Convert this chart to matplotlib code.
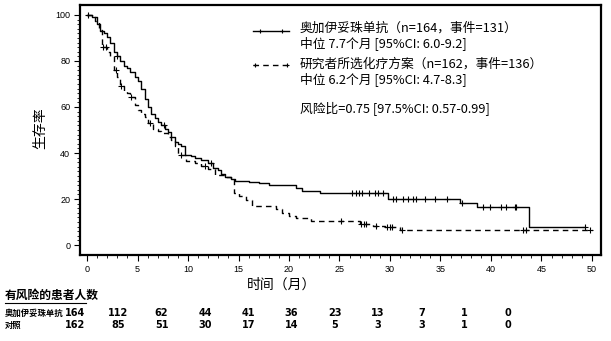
import numpy as np
import matplotlib
matplotlib.use("Agg")
import matplotlib.pyplot as plt
from matplotlib.lines import Line2D

plt.rcParams['font.family'] = ['Noto Sans CJK SC', 'DejaVu Sans']

# ---------------- data ----------------
times_o = [0, 0.5, 1.0, 1.3, 1.7, 2.0, 2.3, 2.7, 3.0, 3.3, 3.7, 4.0, 4.3, 4.7, 5.0, 5.3, 5.7,
           6.0, 6.3, 6.7, 7.0, 7.3, 7.7, 8.0, 8.3, 8.7, 9.0, 9.3, 9.7, 10.3, 10.7, 11.3, 12.0,
           12.5, 13.0, 13.3, 13.7, 14.3, 14.7, 16.0, 17.0, 18.0, 20.7, 21.3, 23.1, 29.8, 36.9,
           38.6, 43.8, 49.3]
surv_o = [100, 99, 96, 93, 92, 90.5, 88, 84, 82, 80, 78, 77, 75, 73, 71.5, 68, 63.5,
          60, 57, 55, 53.5, 52, 50.5, 49, 47, 45, 44, 43, 39, 38.5, 38, 37, 35.5,
          33.5, 32.5, 31, 29.5, 28.5, 27.8, 27.3, 27, 26.3, 24.8, 23.5, 22.7, 20.0, 18.5,
          16.4, 8.0, 8.0]
cens_o = [0.1, 3.0, 7.6, 12.3, 26.2, 26.6, 26.9, 27.2, 27.9, 28.5, 28.8, 29.3, 30.3, 30.6,
          31.3, 31.8, 32.3, 32.6, 33.5, 34.5, 35.6, 37.1, 39.2, 39.9, 41.0, 41.5, 42.4, 42.5,
          49.3]

times_c = [0, 0.5, 0.8, 1.2, 1.5, 2.0, 2.3, 2.7, 3.0, 3.3, 3.7, 4.0, 4.3, 4.7, 5.0, 5.3,
           5.7, 6.0, 6.5, 7.0, 7.3, 8.0, 8.3, 8.7, 9.0, 9.8, 10.7, 11.3, 12.0, 12.7, 13.7,
           14.3, 14.6, 15.0, 15.7, 16.3, 18.7, 19.3, 20.0, 20.7, 22.2, 27.0, 28.3, 29.5,
           31.0, 50.0]
surv_c = [100, 99, 97.5, 93.5, 86, 84, 82, 76, 73, 69, 67, 66, 64.5, 61, 58.5, 57,
          55.5, 53, 50.5, 49.5, 48.5, 47, 45.5, 43, 39, 36.5, 35.5, 34.5, 33, 30.5, 29.8,
          28.5, 22.7, 21.2, 19.5, 17, 15.5, 14, 12.5, 11.6, 10.4, 9.1, 8.3, 8.0,
          6.5, 6.5]
cens_c = [1.6, 1.9, 2.9, 3.4, 4.4, 6.2, 9.3, 11.7, 25.1, 27.1, 27.4, 27.6, 28.6, 29.7,
          30.0, 30.2, 31.2, 43.2, 43.5, 49.8]

risk_months = [0, 5, 10, 15, 20, 25, 30, 35, 40, 45, 50]
risk_o = [164, 112, 62, 44, 41, 36, 23, 13, 7, 1, 0]
risk_c = [162, 85, 51, 30, 17, 14, 5, 3, 3, 1, 0]

legend_o = "奥加伊妥珠单抗（n=164，事件=131）"
median_o = "中位 7.7个月 [95%CI: 6.0-9.2]"
legend_c = "研究者所选化疗方案（n=162，事件=136）"
median_c = "中位 6.2个月 [95%CI: 4.7-8.3]"
hr_text = "风险比=0.75 [97.5%CI: 0.57-0.99]"
ylabel = "生存率"
xlabel = "时间（月）"
risk_title = "有风险的患者人数"
row_labels = ["奥加伊妥珠单抗", "对照"]

# ---------------- figure ----------------
W, H = 611, 341
fig = plt.figure(figsize=(W / 100, H / 100), dpi=100)
ax = fig.add_axes([80 / W, (H - 255) / H, (601 - 80) / W, (255 - 5) / H])


def step_val(t, times, surv):
    idx = np.searchsorted(times, t, side='right') - 1
    return np.asarray(surv)[idx]


ax.plot(times_o, surv_o, drawstyle='steps-post', color='black', lw=1.0)
ax.plot(times_c, surv_c, drawstyle='steps-post', color='black', lw=1.0, dashes=(4, 3))
ax.plot(cens_o, step_val(cens_o, times_o, surv_o), ls='none', marker='+', ms=4,
        mew=0.8, color='black')
ax.plot(cens_c, step_val(cens_c, times_c, surv_c), ls='none', marker='+', ms=4,
        mew=0.8, color='black')

ax.set_xlim(-0.7, 50.9)
ax.set_ylim(-4.3, 104.3)
ax.set_xticks(range(0, 51, 5))
ax.set_yticks(range(0, 101, 20))
ax.set_xticks(range(0, 51, 1), minor=True)
ax.set_yticks(range(0, 101, 2), minor=True)
ax.tick_params(which='major', length=4, width=0.8, direction='out', labelsize=6.5, pad=3)
ax.tick_params(which='minor', length=2, width=0.6, direction='out')
for lab in ax.get_xticklabels() + ax.get_yticklabels():
    lab.set_family(['Liberation Sans', 'DejaVu Sans'])
for sp in ax.spines.values():
    sp.set_linewidth(1.6)


def fx(px):
    return px / W


def fy(py):
    return 1 - py / H


# legend (manual)
fig.add_artist(Line2D([fx(253), fx(289)], [fy(31), fy(31)], color='black', lw=1.0))
fig.add_artist(Line2D([fx(260), fx(282)], [fy(31), fy(31)], ls='none', marker='+',
                      ms=3.5, mew=0.8, color='black'))
fig.add_artist(Line2D([fx(253), fx(289)], [fy(65), fy(65)], color='black', lw=1.0,
                      dashes=(4, 3)))
fig.add_artist(Line2D([fx(255), fx(287)], [fy(65), fy(65)], ls='none', marker='+',
                      ms=3.5, mew=0.8, color='black'))

tkw = dict(fontsize=9.2, va='center', ha='left', color='black')
fig.text(fx(300), fy(28), legend_o, **tkw)
fig.text(fx(300), fy(43), median_o, **tkw)
fig.text(fx(300), fy(64), legend_c, **tkw)
fig.text(fx(300), fy(79), median_c, **tkw)
fig.text(fx(300), fy(109), hr_text, **tkw)

fig.text(fx(40), fy(128), ylabel, rotation=90, fontsize=10, ha='center', va='center')
fig.text(fx(282), fy(285), xlabel, fontsize=10, ha='center', va='center')

# risk table
fig.text(fx(5), fy(295), risk_title, fontsize=8.5, ha='left', va='center',
         fontweight='bold')
fig.add_artist(Line2D([fx(5), fx(86)], [fy(303), fy(303)], color='black', lw=0.8))
row_y = [313, 325]
for lab, yy in zip(row_labels, row_y):
    fig.text(fx(5), fy(yy), lab, fontsize=6.0, ha='left', va='center', fontweight='bold')


def risk_x(m):
    return 75 + (508 - 75) * m / 50


num_font = ['Liberation Sans Narrow', 'DejaVu Sans']
for vals, yy in zip([risk_o, risk_c], row_y):
    for m, v in zip(risk_months, vals):
        fig.text(fx(risk_x(m)), fy(yy), str(v), fontsize=7, ha='center', va='center',
                 fontweight='bold', family=num_font)

fig.savefig('out.png', dpi=100)
